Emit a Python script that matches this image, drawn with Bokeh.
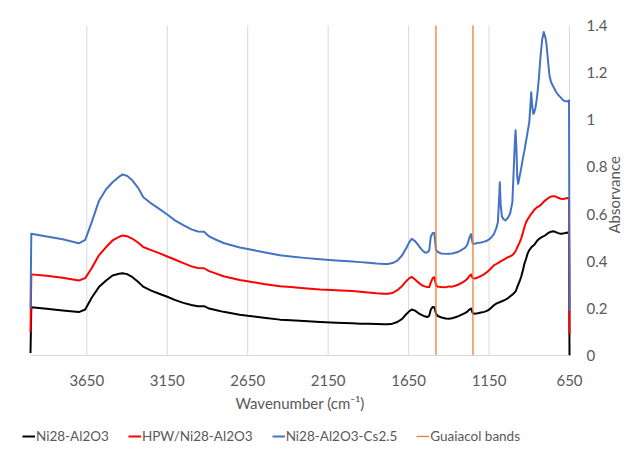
import math

from bokeh.embed import file_html
from bokeh.models import (FixedTicker, Legend, LegendItem, NumeralTickFormatter,
                          Range1d)
from bokeh.plotting import figure
from bokeh.resources import INLINE

# FTIR spectra (absorbance vs wavenumber, cm-1)
wavenumber = [
    4000, 3995, 3900, 3800, 3700, 3660, 3620, 3575, 3530, 3490,
    3450, 3428, 3400, 3366, 3330, 3300, 3250, 3200, 3150, 3100,
    3050, 3000, 2960, 2921, 2890, 2850, 2800, 2700, 2650, 2550,
    2450, 2383, 2300, 2200, 2100, 2000, 1950, 1900, 1850, 1800,
    1780, 1750, 1720, 1690, 1665, 1645, 1630, 1610, 1590, 1570,
    1550, 1535, 1522, 1512, 1500, 1490, 1480, 1470, 1450, 1420,
    1400, 1380, 1360, 1340, 1320, 1300, 1285, 1272, 1262, 1252,
    1240, 1220, 1200, 1180, 1160, 1140, 1120, 1105, 1095, 1088,
    1083, 1078, 1070, 1060, 1048, 1035, 1020, 1005, 996, 990,
    985, 980, 975, 969, 960, 950, 940, 930, 920, 910,
    900, 893, 888, 882, 875, 870, 862, 855, 848, 840,
    830, 820, 810, 800, 793, 785, 775, 765, 750, 735,
    720, 705, 690, 675, 660, 653, 650,
]

ni28_al2o3 = [
    0.01, 0.205, 0.198, 0.191, 0.184, 0.195, 0.245, 0.29, 0.318, 0.339,
    0.347, 0.349, 0.345, 0.332, 0.312, 0.292, 0.275, 0.262, 0.249, 0.235,
    0.223, 0.214, 0.209, 0.209, 0.199, 0.193, 0.185, 0.173, 0.168, 0.16,
    0.152, 0.149, 0.146, 0.142, 0.139, 0.137, 0.135, 0.134, 0.133, 0.132,
    0.132, 0.135, 0.142, 0.155, 0.175, 0.188, 0.195, 0.19, 0.18, 0.172,
    0.166, 0.163, 0.168, 0.195, 0.206, 0.205, 0.178, 0.168, 0.162, 0.157,
    0.156, 0.158, 0.162, 0.167, 0.173, 0.18, 0.186, 0.195, 0.199, 0.18,
    0.177, 0.179, 0.182, 0.185, 0.19, 0.2, 0.213, 0.22, 0.223, 0.225,
    0.226, 0.228, 0.23, 0.233, 0.237, 0.242, 0.25, 0.258, 0.264, 0.268,
    0.272, 0.28, 0.29, 0.3, 0.315, 0.335, 0.36, 0.39, 0.41, 0.433,
    0.447, 0.453, 0.458, 0.462, 0.466, 0.469, 0.476, 0.483, 0.489, 0.494,
    0.499, 0.503, 0.506, 0.51, 0.514, 0.518, 0.522, 0.525, 0.527, 0.523,
    0.519, 0.516, 0.517, 0.52, 0.522, 0.523, 0.0,
]

hpw_ni28_al2o3 = [
    0.099, 0.344, 0.338, 0.33, 0.318, 0.328, 0.37, 0.425, 0.46, 0.488,
    0.503, 0.509, 0.506, 0.495, 0.478, 0.46, 0.447, 0.434, 0.42, 0.406,
    0.392, 0.378, 0.371, 0.37, 0.358, 0.348, 0.336, 0.32, 0.315, 0.303,
    0.294, 0.29, 0.285, 0.28, 0.277, 0.273, 0.27, 0.267, 0.264, 0.262,
    0.262, 0.265, 0.277, 0.295, 0.315, 0.328, 0.333, 0.322, 0.31, 0.299,
    0.293, 0.29, 0.29, 0.31, 0.328, 0.332, 0.3, 0.292, 0.29, 0.289,
    0.293, 0.292, 0.296, 0.301, 0.308, 0.316, 0.325, 0.337, 0.344, 0.328,
    0.326, 0.331, 0.337, 0.345, 0.355, 0.368, 0.382, 0.388, 0.392, 0.395,
    0.397, 0.399, 0.402, 0.406, 0.411, 0.416, 0.42, 0.426, 0.432, 0.438,
    0.443, 0.45, 0.458, 0.467, 0.48, 0.497, 0.52, 0.545, 0.565, 0.578,
    0.588, 0.596, 0.601, 0.606, 0.612, 0.617, 0.622, 0.627, 0.63, 0.633,
    0.638, 0.645, 0.652, 0.658, 0.662, 0.666, 0.671, 0.674, 0.676, 0.674,
    0.669, 0.665, 0.664, 0.666, 0.668, 0.668, 0.093,
]

ni28_al2o3_cs25 = [
    0.2, 0.516, 0.505, 0.493, 0.476, 0.49, 0.565, 0.655, 0.705, 0.735,
    0.758, 0.768, 0.762, 0.742, 0.71, 0.672, 0.645, 0.622, 0.598, 0.572,
    0.553, 0.535, 0.526, 0.525, 0.505, 0.492, 0.477, 0.458, 0.452, 0.438,
    0.425, 0.42, 0.414, 0.408, 0.403, 0.399, 0.396, 0.393, 0.39, 0.388,
    0.388, 0.392, 0.402, 0.425, 0.455, 0.482, 0.495, 0.485, 0.468, 0.45,
    0.437, 0.437, 0.445, 0.505, 0.52, 0.52, 0.447, 0.44, 0.433, 0.431,
    0.432, 0.433, 0.436, 0.44, 0.448, 0.456, 0.47, 0.5, 0.515, 0.475,
    0.474, 0.477, 0.479, 0.483, 0.488, 0.498, 0.515, 0.54, 0.566, 0.66,
    0.735, 0.64, 0.59, 0.578, 0.573, 0.582, 0.6, 0.65, 0.8, 0.9,
    0.955, 0.88, 0.76, 0.728, 0.76, 0.795, 0.835, 0.87, 0.91, 0.95,
    0.99, 1.06, 1.117, 1.06, 1.025, 1.03, 1.05, 1.08, 1.12, 1.18,
    1.27, 1.34, 1.372, 1.35, 1.32, 1.26, 1.19, 1.16, 1.14, 1.12,
    1.105, 1.095, 1.083, 1.078, 1.08, 1.082, 0.19,
]

# reference wavenumbers of guaiacol adsorption bands
guaiacol_bands = [1480, 1250]

x_ticks = [3650, 3150, 2650, 2150, 1650, 1150, 650]
y_ticks = [0, 0.2, 0.4, 0.6, 0.8, 1.0, 1.2, 1.4]

WN_MAX, WN_MIN = 4000, 650
ABS_MIN, ABS_MAX = 0, 1.4

FONT = "Lato"
GREY_TEXT = "#595959"
GRID = "#d9d9d9"

# The frame covers the whole canvas; both axes are pinned to the data corner
# (650 cm-1, 0 absorbance) so that their labels, the axis titles and the legend
# sit around the spectral area.
p = figure(
    width=624, height=449,
    x_range=Range1d(4186.5, 308.2), y_range=Range1d(-0.399, 1.506),
    y_axis_location="right",
    output_backend="svg", toolbar_location=None,
    min_border_left=0, min_border_top=0,
    min_border_right=0, min_border_bottom=0,
)
p.outline_line_color = None
p.background_fill_color = "white"
p.xgrid.grid_line_color = None
p.ygrid.grid_line_color = None

# vertical grid lines at the wavenumber ticks, spanning the absorbance axis
p.segment(x0=x_ticks, y0=[ABS_MIN] * len(x_ticks), x1=x_ticks,
          y1=[ABS_MAX] * len(x_ticks), line_color=GRID, line_width=1)

# x axis
xa = p.xaxis[0]
xa.fixed_location = ABS_MIN
xa.bounds = (WN_MIN, WN_MAX)
xa.ticker = FixedTicker(ticks=x_ticks)
xa.axis_label = "Wavenumber (cm\u207b\u00b9)"
xa.axis_line_color = GRID
xa.major_tick_line_color = None
xa.minor_tick_line_color = None
xa.major_label_standoff = 14
xa.axis_label_standoff = 4
xa.major_label_text_font = FONT
xa.major_label_text_font_size = "15px"
xa.major_label_text_color = GREY_TEXT
xa.axis_label_text_font = FONT
xa.axis_label_text_font_size = "15px"
xa.axis_label_text_font_style = "normal"
xa.axis_label_text_color = GREY_TEXT

# y axis at 650 cm-1, labels to its right; title read bottom-to-top
ya = p.yaxis[0]
ya.fixed_location = WN_MIN
ya.ticker = FixedTicker(ticks=y_ticks)
ya.bounds = (-0.364, ABS_MAX)
ya.formatter = NumeralTickFormatter(format="0.[0]")
ya.axis_label = "Absorvance"
ya.axis_label_orientation = math.pi / 2
ya.axis_line_color = None
ya.major_tick_line_color = None
ya.minor_tick_line_color = None
ya.major_tick_out = 0
ya.major_label_standoff = 17
ya.axis_label_standoff = 4
ya.major_label_text_font = FONT
ya.major_label_text_font_size = "15px"
ya.major_label_text_color = GREY_TEXT
ya.axis_label_text_font = FONT
ya.axis_label_text_font_size = "15px"
ya.axis_label_text_font_style = "normal"
ya.axis_label_text_color = GREY_TEXT

r_black = p.line(wavenumber, ni28_al2o3, line_color="#000000", line_width=2,
                 line_join="round")
r_red = p.line(wavenumber, hpw_ni28_al2o3, line_color="#ff0000", line_width=2,
               line_join="round")
r_blue = p.line(wavenumber, ni28_al2o3_cs25, line_color="#4472c4", line_width=2,
                line_join="round")
r_bands = p.segment(x0=guaiacol_bands, y0=[ABS_MIN] * len(guaiacol_bands),
                    x1=guaiacol_bands, y1=[ABS_MAX] * len(guaiacol_bands),
                    line_color="#ed7d31", line_width=1.3)

legend = Legend(
    items=[
        LegendItem(label="Ni28-Al2O3", renderers=[r_black]),
        LegendItem(label="HPW/Ni28-Al2O3", renderers=[r_red]),
        LegendItem(label="Ni28-Al2O3-Cs2.5", renderers=[r_blue]),
        LegendItem(label="Guaiacol bands", renderers=[r_bands]),
    ],
    orientation="horizontal",
    location=(22, 5),
    label_text_font=FONT,
    label_text_font_size="13.5px",
    label_text_color=GREY_TEXT,
    glyph_width=13,
    glyph_height=14,
    label_standoff=1,
    spacing=19,
    padding=0,
    margin=0,
    border_line_color=None,
    background_fill_alpha=0,
)
p.add_layout(legend, "center")

open("out.html", "w").write(file_html(p, INLINE))
